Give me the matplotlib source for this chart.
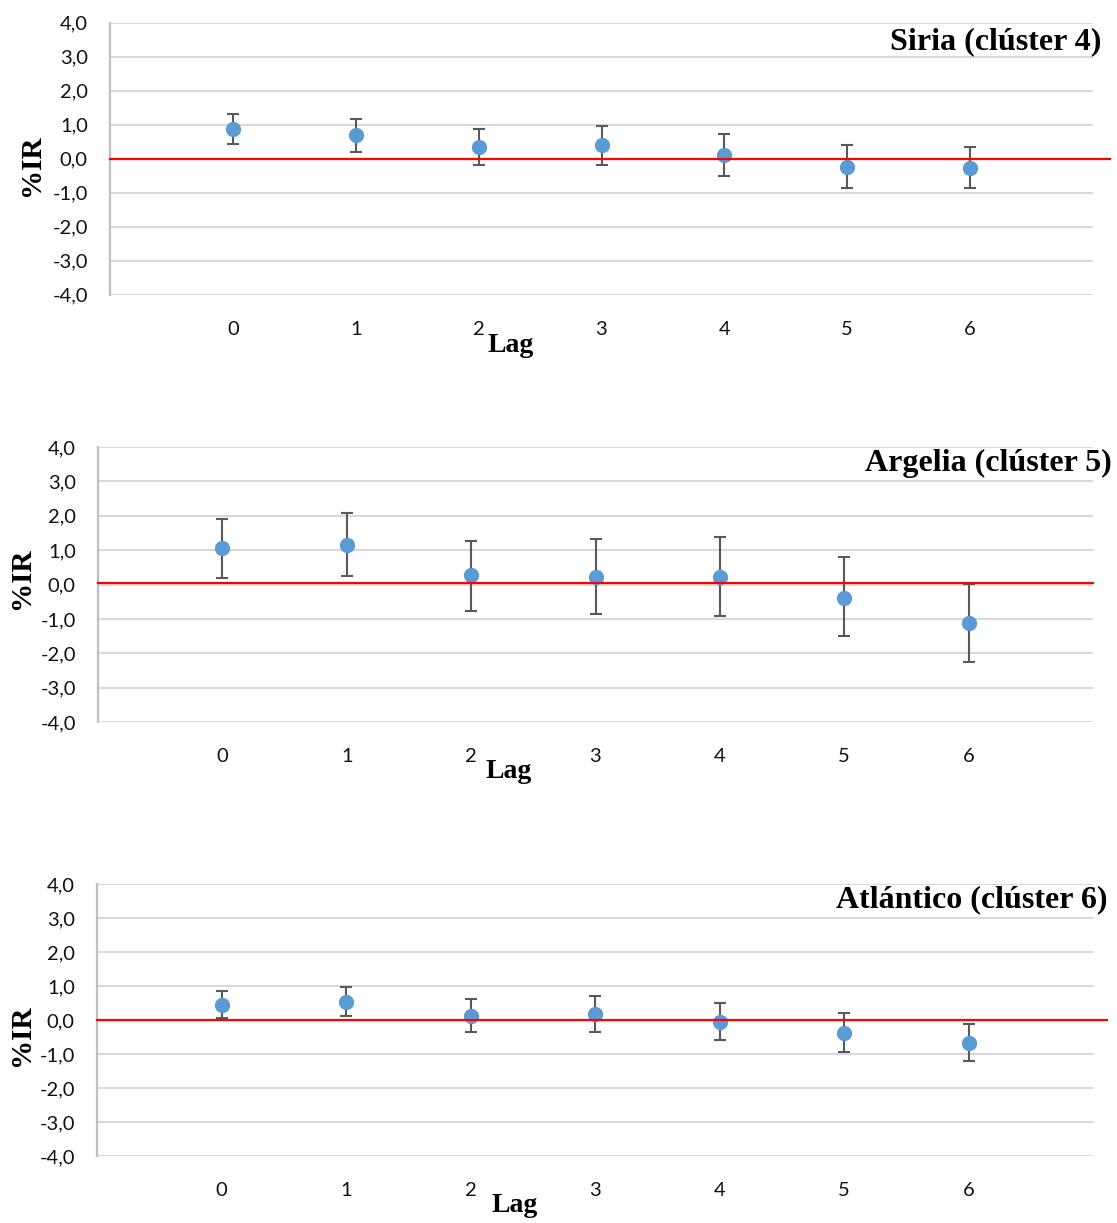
import matplotlib
matplotlib.use('Agg')
import matplotlib.pyplot as plt

lags = [0, 1, 2, 3, 4, 5, 6]
yticks = [4, 3, 2, 1, 0, -1, -2, -3, -4]
ytick_labels = ['4,0', '3,0', '2,0', '1,0', '0,0', '-1,0', '-2,0', '-3,0', '-4,0']

titles = ['Siria (clúster 4)', 'Argelia (clúster 5)', 'Atlántico (clúster 6)']

# point estimate, lower and upper bound of each error bar
siria = [0.86, 0.69, 0.34, 0.39, 0.10, -0.24, -0.26]
siria_lo = [0.43, 0.21, -0.18, -0.18, -0.52, -0.87, -0.87]
siria_hi = [1.31, 1.17, 0.88, 0.95, 0.73, 0.41, 0.33]

argelia = [1.05, 1.15, 0.27, 0.22, 0.21, -0.38, -1.13]
argelia_lo = [0.20, 0.24, -0.76, -0.85, -0.93, -1.51, -2.25]
argelia_hi = [1.92, 2.08, 1.28, 1.31, 1.38, 0.79, 0.01]

atlantico = [0.44, 0.52, 0.13, 0.19, -0.06, -0.37, -0.68]
atlantico_lo = [0.06, 0.11, -0.35, -0.34, -0.60, -0.93, -1.22]
atlantico_hi = [0.85, 0.96, 0.61, 0.72, 0.51, 0.21, -0.11]

ref_line = [0.0, 0.05, 0.0]

W, H = 1117, 1223
fig = plt.figure(figsize=(W / 100, H / 100), dpi=100)

# panel boxes in pixels: left, top, right, bottom
boxes = [(110, 22.7, 1093, 294.7), (98, 447, 1093, 722), (97, 884, 1093, 1156)]
title_pos = [(1101, 42), (1112, 463), (1108, 900)]
lag_pos = [(511, 346), (509, 772), (515, 1206)]
ylab_pos = [(32, 165), (22, 578), (22, 1035)]
red_end = [1.017, 1.0, 1.014]

series = [(siria, siria_lo, siria_hi),
          (argelia, argelia_lo, argelia_hi),
          (atlantico, atlantico_lo, atlantico_hi)]

serif = ['Liberation Serif', 'DejaVu Serif']
tick_font = ['Lato', 'DejaVu Sans']

for i, (vals, lo, hi) in enumerate(series):
    l, t, r, b = boxes[i]
    ax = fig.add_axes([l / W, 1 - b / H, (r - l) / W, (b - t) / H])
    ax.set_xlim(-1, 7)
    ax.set_ylim(-4, 4)
    ax.set_yticks(yticks)
    ax.set_yticklabels(ytick_labels, fontsize=14.5, family=tick_font, color='#111111')
    ax.set_xticks(lags)
    ax.set_xticklabels([str(x) for x in lags], fontsize=14.5, family=tick_font, color='#111111')
    ax.tick_params(axis='y', length=0, pad=16)
    ax.tick_params(axis='x', length=0, pad=19)
    ax.grid(axis='y', color='#d9d9d9', lw=1.5, zorder=0)
    for s in ['top', 'right', 'bottom']:
        ax.spines[s].set_visible(False)
    ax.spines['left'].set_color('#bfbfbf')
    ax.spines['left'].set_linewidth(1.6)

    err = [[v - a for v, a in zip(vals, lo)], [c - v for v, c in zip(vals, hi)]]
    ax.errorbar(lags, vals, yerr=err, fmt='none', ecolor='#595959',
                elinewidth=1.5, capsize=4.3, capthick=1.5, zorder=2)
    ax.plot(lags, vals, 'o', color='#5b9bd5', markersize=10, zorder=3)
    ax.axhline(ref_line[i], xmax=red_end[i], color='#ff0000', lw=1.6,
               zorder=4, clip_on=False)

    tx, ty = title_pos[i]
    fig.text(tx / W, 1 - ty / H, titles[i], ha='right', va='center',
             fontsize=23, fontweight='bold', family=serif)
    lx, ly = lag_pos[i]
    fig.text(lx / W, 1 - ly / H, 'Lag', ha='center', va='center',
             fontsize=20, fontweight='bold', family=serif)
    yx, yy = ylab_pos[i]
    fig.text(yx / W, 1 - yy / H, '%IR', ha='center', va='center', rotation=90,
             fontsize=21, fontweight='bold', family=serif)

plt.savefig('out.png', dpi=100)
plt.close(fig)
